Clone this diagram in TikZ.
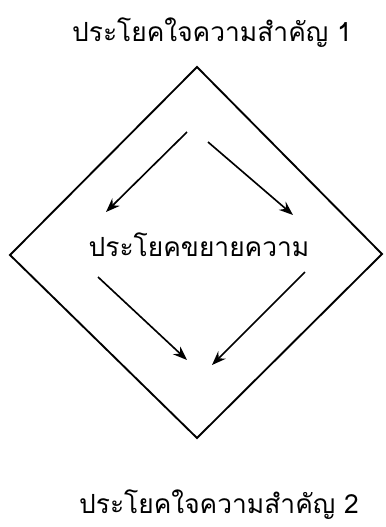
\documentclass[tikz,border=0pt]{standalone}
\usepackage{fontspec}
\newfontfamily\thaifont[Script=Thai]{Loma}
\usetikzlibrary{arrows.meta}

\begin{document}
\begin{tikzpicture}[
  x=0.03cm, y=-0.03cm,
  label/.style={font=\thaifont\fontsize{22.5}{26}\selectfont, inner sep=0pt},
  frame/.style={line width=1.6pt, line join=miter},
  flow/.style={line width=1.4pt, -{Stealth[length=12pt, width=9pt]}},
]
  \useasboundingbox (0,0) rectangle (385,527);

  \node[label] (main1) at (212,33) {ประโยคใจความสำคัญ 1};
  \node[label] (detail) at (199,245) {ประโยคขยายความ};
  \node[label] (main2) at (219,505) {ประโยคใจความสำคัญ 2};

  % Diamond corners
  \coordinate (top) at (197,67);
  \coordinate (right) at (382,254);
  \coordinate (bottom) at (197,438);
  \coordinate (left) at (10,255);
  \draw[frame] (top) -- (right) -- (bottom) -- (left) -- cycle;

  % Arrow ends
  \coordinate (a1) at (187,132);  \coordinate (b1) at (106,212);
  \coordinate (a2) at (208,142);  \coordinate (b2) at (293,215);
  \coordinate (a3) at (98,277);   \coordinate (b3) at (187,360);
  \coordinate (a4) at (305,272);  \coordinate (b4) at (212,365);
  \foreach \i in {1,2,3,4} { \draw[flow] (a\i) -- (b\i); }
\end{tikzpicture}
\end{document}
